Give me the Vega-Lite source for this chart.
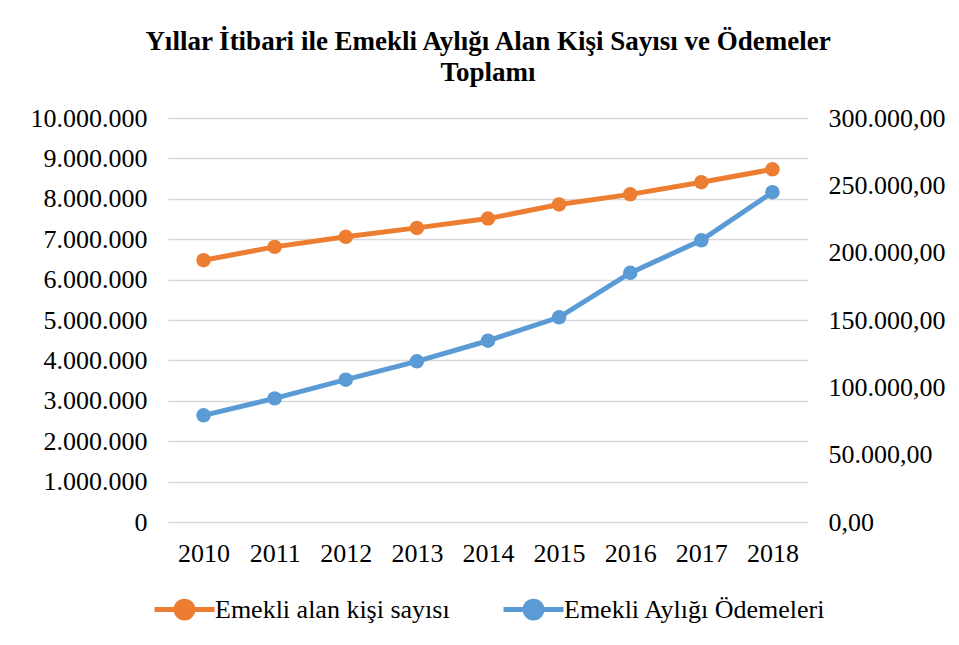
{
  "$schema": "https://vega.github.io/schema/vega-lite/v6.json",
  "autosize": "none",
  "width": 640,
  "height": 404,
  "padding": {"left": 168, "top": 118, "right": 151, "bottom": 123},
  "background": "white",
  "config": {
    "locale": {"number": {"decimal": ",", "thousands": ".", "grouping": [3], "currency": ["", ""]}},
    "font": "Liberation Serif",
    "view": {"stroke": null}
  },
  "title": {
    "text": ["Yıllar İtibari ile Emekli Aylığı Alan Kişi Sayısı ve Ödemeler", "Toplamı"],
    "font": "Liberation Serif",
    "fontSize": 27,
    "fontWeight": "bold",
    "color": "#000000",
    "anchor": "middle",
    "lineHeight": 31,
    "offset": 18
  },
  "data": {
    "values": [
      {"year": "2010", "series": "Emekli alan kişi sayısı", "value": 6480000},
      {"year": "2011", "series": "Emekli alan kişi sayısı", "value": 6810000},
      {"year": "2012", "series": "Emekli alan kişi sayısı", "value": 7060000},
      {"year": "2013", "series": "Emekli alan kişi sayısı", "value": 7280000},
      {"year": "2014", "series": "Emekli alan kişi sayısı", "value": 7510000},
      {"year": "2015", "series": "Emekli alan kişi sayısı", "value": 7860000},
      {"year": "2016", "series": "Emekli alan kişi sayısı", "value": 8110000},
      {"year": "2017", "series": "Emekli alan kişi sayısı", "value": 8410000},
      {"year": "2018", "series": "Emekli alan kişi sayısı", "value": 8730000},
      {"year": "2010", "series": "Emekli Aylığı Ödemeleri", "value": 79200},
      {"year": "2011", "series": "Emekli Aylığı Ödemeleri", "value": 91800},
      {"year": "2012", "series": "Emekli Aylığı Ödemeleri", "value": 105700},
      {"year": "2013", "series": "Emekli Aylığı Ödemeleri", "value": 119300},
      {"year": "2014", "series": "Emekli Aylığı Ödemeleri", "value": 134600},
      {"year": "2015", "series": "Emekli Aylığı Ödemeleri", "value": 152000},
      {"year": "2016", "series": "Emekli Aylığı Ödemeleri", "value": 185000},
      {"year": "2017", "series": "Emekli Aylığı Ödemeleri", "value": 209200},
      {"year": "2018", "series": "Emekli Aylığı Ödemeleri", "value": 244900}
    ]
  },
  "encoding": {
    "x": {
      "field": "year",
      "type": "ordinal",
      "scale": {"type": "point", "padding": 0.5},
      "axis": {
        "title": null,
        "labelAngle": 0,
        "domain": false,
        "ticks": false,
        "labelFont": "Liberation Serif",
        "labelFontSize": 26,
        "labelColor": "#000000",
        "labelPadding": 18
      }
    },
    "color": {
      "field": "series",
      "type": "nominal",
      "scale": {
        "domain": ["Emekli alan kişi sayısı", "Emekli Aylığı Ödemeleri"],
        "range": ["#ED7D31", "#5B9BD5"]
      },
      "legend": {
        "title": null,
        "orient": "none",
        "direction": "horizontal",
        "legendX": -16,
        "legendY": 459,
        "padding": 0,
        "symbolType": "M-1,0L1,0M-0.28,0A0.28,0.28,0,1,1,0.28,0A0.28,0.28,0,1,1,-0.28,0Z",
        "symbolSize": 3600,
        "symbolStrokeWidth": 5,
        "labelFont": "Liberation Serif",
        "labelFontSize": 26,
        "labelColor": "#000000",
        "labelOffset": -2,
        "columnPadding": 43,
        "labelLimit": 400,
        "encode": {
          "symbols": {
            "update": {
              "fill": {"scale": "color", "field": "value"},
              "stroke": {"scale": "color", "field": "value"},
              "fillOpacity": {"value": 1}
            }
          }
        }
      }
    }
  },
  "layer": [
    {
      "transform": [{"filter": "datum.series === 'Emekli alan kişi sayısı'"}],
      "mark": {"type": "line", "strokeWidth": 5, "point": {"size": 210, "filled": true, "opacity": 1}},
      "encoding": {
        "y": {
          "field": "value",
          "type": "quantitative",
          "scale": {"domain": [0, 10000000], "nice": false},
          "axis": {
            "title": null,
            "orient": "left",
            "values": [0, 1000000, 2000000, 3000000, 4000000, 5000000, 6000000, 7000000, 8000000, 9000000, 10000000],
            "format": ",.0f",
            "grid": true,
            "gridColor": "#D9D9D9",
            "gridWidth": 1.3,
            "domain": false,
            "ticks": false,
            "labelFont": "Liberation Serif",
            "labelFontSize": 26,
            "labelColor": "#000000",
            "labelPadding": 21
          }
        }
      }
    },
    {
      "transform": [{"filter": "datum.series === 'Emekli Aylığı Ödemeleri'"}],
      "mark": {"type": "line", "strokeWidth": 5, "point": {"size": 210, "filled": true, "opacity": 1}},
      "encoding": {
        "y": {
          "field": "value",
          "type": "quantitative",
          "scale": {"domain": [0, 300000], "nice": false},
          "axis": {
            "title": null,
            "orient": "right",
            "values": [0, 50000, 100000, 150000, 200000, 250000, 300000],
            "format": ",.2f",
            "grid": false,
            "domain": false,
            "ticks": false,
            "labelFont": "Liberation Serif",
            "labelFontSize": 26,
            "labelColor": "#000000",
            "labelPadding": 20
          }
        }
      }
    }
  ],
  "resolve": {"scale": {"y": "independent"}}
}
